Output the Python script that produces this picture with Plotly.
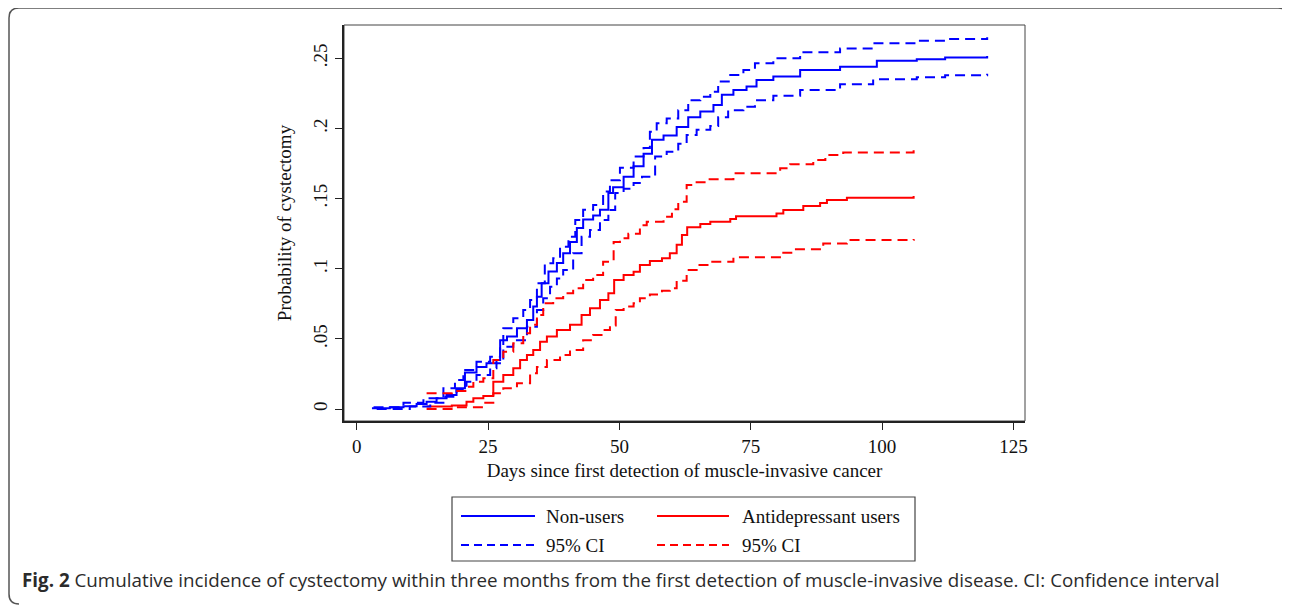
import plotly.graph_objects as go

# ---------------- data ----------------
nonusers_days = [2.9, 6.3, 8.9, 11.4, 13.3, 15.2, 17.1, 19.0, 20.6, 22.8, 24.7, 26.6, 27.3, 28.6,
                 30.5, 32.4, 33.6, 34.3, 35.2, 36.5, 38.1, 39.3, 40.6, 41.9, 43.1, 45.0, 46.3,
                 47.9, 48.8, 50.8, 52.7, 54.6, 56.2, 58.4, 60.9, 63.1, 65.4, 67.9, 69.5, 71.7,
                 74.2, 76.1, 79.3, 84.4, 92.0, 99.0, 106.6, 112.0, 120.0]
nonusers_est = [0.0005, 0.0012, 0.002, 0.0036, 0.0052, 0.0076, 0.010, 0.0148, 0.0260, 0.030,
                0.0326, 0.035, 0.049, 0.0516, 0.0575, 0.0634, 0.073, 0.080, 0.0896, 0.098,
                0.104, 0.111, 0.119, 0.129, 0.135, 0.138, 0.142, 0.154, 0.158, 0.1656, 0.173,
                0.182, 0.192, 0.195, 0.201, 0.208, 0.212, 0.2167, 0.224, 0.2274, 0.2298,
                0.2345, 0.237, 0.2417, 0.244, 0.2483, 0.2492, 0.2505, 0.2516]

nonusers_up_days = [3.2, 8.9, 12.7, 16.5, 18.7, 20.3, 22.8, 25.4, 27.3, 27.9, 29.8, 31.7, 33.0,
                    34.3, 35.8, 37.4, 38.7, 40.3, 41.6, 43.1, 45.0, 46.9, 48.2, 50.1, 52.7,
                    54.6, 55.8, 57.1, 59.0, 61.2, 63.1, 65.4, 67.3, 68.8, 71.1, 73.6, 75.8,
                    79.3, 84.4, 92.0, 98.3, 106.6, 112.0, 120.0]
nonusers_up = [0.0012, 0.0045, 0.0076, 0.0148, 0.0207, 0.0278, 0.0337, 0.0373, 0.0433, 0.0575,
               0.0647, 0.0706, 0.0777, 0.0896, 0.1039, 0.1074, 0.1157, 0.1228, 0.1347, 0.142,
               0.1454, 0.155, 0.163, 0.172, 0.1800, 0.1860, 0.1977, 0.2037, 0.207, 0.213, 0.220,
               0.2226, 0.2262, 0.2334, 0.238, 0.2417, 0.2464, 0.250, 0.2543, 0.257, 0.2607,
               0.2625, 0.2638, 0.2649]

nonusers_lo_days = [3.8, 10.1, 14.0, 16.5, 19.0, 20.9, 22.8, 25.4, 26.6, 27.9, 29.8, 32.4, 34.3,
                    35.5, 36.8, 38.1, 39.3, 41.2, 42.8, 44.4, 46.3, 47.9, 49.2, 50.8, 52.7,
                    54.3, 56.8, 59.0, 61.2, 62.8, 64.7, 67.3, 68.8, 70.7, 73.6, 75.8, 79.3,
                    84.4, 92.0, 98.3, 106.6, 112.0, 120.0]
nonusers_lo = [0.0, 0.0017, 0.0045, 0.0088, 0.0135, 0.0195, 0.0242, 0.029, 0.0326, 0.0444,
               0.049, 0.0587, 0.0706, 0.079, 0.0872, 0.093, 0.099, 0.111, 0.1228, 0.1276,
               0.1347, 0.1419, 0.154, 0.157, 0.161, 0.1656, 0.180, 0.1834, 0.189, 0.1953,
               0.199, 0.2017, 0.208, 0.213, 0.2155, 0.220, 0.2232, 0.2274, 0.2315, 0.235,
               0.2364, 0.2378, 0.239]

users_days = [13.3, 18.1, 20.9, 22.2, 24.1, 26.0, 27.9, 29.8, 31.1, 32.4, 33.6, 34.9, 36.2,
              38.1, 40.6, 42.8, 44.4, 46.3, 47.9, 49.0, 50.8, 52.7, 53.9, 55.8, 58.1, 59.6,
              60.9, 61.9, 62.9, 65.4, 67.3, 71.1, 72.2, 79.9, 81.2, 85.0, 88.2, 89.5, 93.3, 106.0]
users_est = [0.0017, 0.0025, 0.0052, 0.0076, 0.0093, 0.0195, 0.0242, 0.029, 0.035, 0.0385,
             0.042, 0.048, 0.0516, 0.0563, 0.060, 0.067, 0.0718, 0.0777, 0.0825, 0.092,
             0.0955, 0.0979, 0.1027, 0.1055, 0.1074, 0.111, 0.117, 0.124, 0.1295, 0.1319,
             0.1335, 0.1355, 0.1373, 0.1393, 0.1419, 0.1447, 0.1469, 0.149, 0.1506, 0.1518]

users_up_days = [13.3, 18.1, 20.9, 22.2, 24.1, 26.0, 27.9, 29.8, 31.7, 33.0, 34.3, 35.5, 37.4,
                 39.3, 41.2, 43.1, 45.0, 46.9, 48.9, 50.1, 51.7, 53.9, 55.2, 58.4, 60.0, 61.2,
                 62.8, 64.7, 66.6, 71.7, 80.6, 82.5, 86.9, 89.2, 92.6, 106.0]
users_up = [0.0112, 0.0128, 0.0159, 0.0195, 0.0219, 0.035, 0.0408, 0.0468, 0.054, 0.060,
            0.067, 0.0753, 0.079, 0.0825, 0.086, 0.092, 0.0955, 0.105, 0.119, 0.1217, 0.125,
            0.131, 0.1335, 0.137, 0.1424, 0.1478, 0.1597, 0.1616, 0.1637, 0.168, 0.1716,
            0.1744, 0.1775, 0.181, 0.1828, 0.1846]

users_lo_days = [13.3, 19.0, 24.1, 26.0, 27.9, 30.5, 33.0, 34.3, 36.2, 38.7, 40.6, 43.1, 45.0,
                 46.9, 48.2, 49.3, 50.8, 52.7, 53.9, 55.8, 58.1, 59.6, 60.9, 62.8, 64.7, 67.3,
                 71.7, 80.9, 83.1, 88.8, 93.3, 106.0]
users_lo = [0.0, 0.0012, 0.0045, 0.0112, 0.0148, 0.0183, 0.0254, 0.030, 0.035, 0.0385, 0.042,
            0.049, 0.0528, 0.0563, 0.0595, 0.0706, 0.073, 0.0753, 0.079, 0.0817, 0.0843,
            0.086, 0.0915, 0.099, 0.1027, 0.105, 0.1081, 0.1114, 0.1138, 0.118, 0.1205, 0.1212]

x_ticks = [0, 25, 50, 75, 100, 125]
y_ticks = [0, 0.05, 0.10, 0.15, 0.20, 0.25]
y_tick_labels = ["0", ".05", ".1", ".15", ".2", ".25"]

legend_labels = ["Non-users", "Antidepressant users", "95% CI", "95% CI"]
caption_bold = "Fig. 2"
caption_text = ("Cumulative incidence of cystectomy within three months from the first "
                "detection of muscle-invasive disease. CI: Confidence interval")

BLUE = "#0000FF"
RED = "#FF0000"
SERIF = "Liberation Serif, Times New Roman, serif"

# ---------------- layout geometry (screen pixels of the reference) ----------------
OFF = 8                      # page body margin of the browser
W, H = 1290 - OFF, 605 - OFF
PL, PR, PT, PB = 344, 1025, 25, 421   # plot area edges in screen pixels


def px(x):
    return (x - PL) / (PR - PL)


def py(y):
    return (PB - y) / (PB - PT)


fig = go.Figure()

series = [
    (nonusers_days, nonusers_est, BLUE, "solid", legend_labels[0]),
    (users_days, users_est, RED, "solid", legend_labels[1]),
    (nonusers_up_days, nonusers_up, BLUE, "10px,6px", legend_labels[2]),
    (nonusers_lo_days, nonusers_lo, BLUE, "10px,6px", legend_labels[2]),
    (users_up_days, users_up, RED, "10px,6px", legend_labels[3]),
    (users_lo_days, users_lo, RED, "10px,6px", legend_labels[3]),
]
for xs, ys, col, dash, name in series:
    fig.add_trace(go.Scatter(
        x=xs, y=ys, mode="lines", name=name, showlegend=False,
        line=dict(color=col, width=2, dash=dash, shape="hv"),
        hoverinfo="x+y+name",
    ))

axis_common = dict(
    showgrid=False, zeroline=False, showline=True, linecolor="#222222", linewidth=2,
    ticks="outside", ticklen=7, tickwidth=1, tickcolor="#222222",
    tickfont=dict(family=SERIF, size=19, color="#111111"),
)

fig.update_xaxes(
    range=[-2.42, 127.2], tickvals=x_ticks, ticktext=[str(v) for v in x_ticks],
    title=dict(text="Days since first detection of muscle-invasive cancer",
               font=dict(family=SERIF, size=19, color="#111111"), standoff=8),
    **axis_common,
)
fig.update_yaxes(
    range=[-0.00855, 0.2737], tickvals=y_ticks, ticktext=y_tick_labels, tickangle=-90,
    title=dict(text="Probability of cystectomy",
               font=dict(family=SERIF, size=19, color="#111111"), standoff=14),
    **axis_common,
)

shapes = []
# plot region outline (thin)
shapes.append(dict(type="rect", xref="paper", yref="paper", x0=0, y0=0, x1=1, y1=1,
                   line=dict(color="#444444", width=1), layer="below"))
# outer rounded frame
fx0, fy0, fx1, fy1, r = 9, 8, 1288, 604, 10
path = (f"M {px(fx0 + r)},{py(fy1)} Q {px(fx0)},{py(fy1)} {px(fx0)},{py(fy1 - r)} "
        f"L {px(fx0)},{py(fy0 + r)} "
        f"Q {px(fx0)},{py(fy0)} {px(fx0 + r)},{py(fy0)} "
        f"L {px(fx1 - r)},{py(fy0)} Q {px(fx1)},{py(fy0)} {px(fx1)},{py(fy0 + r)} "
        f"L {px(fx1)},{py(fy1)}")
shapes.append(dict(type="path", xref="paper", yref="paper", path=path,
                   line=dict(color="#555555", width=1.5)))

# legend box
LX0, LX1, LY0, LY1 = 452, 915, 497, 561
shapes.append(dict(type="rect", xref="paper", yref="paper",
                   x0=px(LX0), x1=px(LX1), y0=py(LY1), y1=py(LY0),
                   line=dict(color="#444444", width=1.2), fillcolor="white"))
rows = [516, 545]
cols = [(461, 535, 544), (657, 729, 740)]
entries = [
    (0, 0, BLUE, "solid", legend_labels[0]),
    (0, 1, RED, "solid", legend_labels[1]),
    (1, 0, BLUE, "8px,5px", legend_labels[2]),
    (1, 1, RED, "8px,5px", legend_labels[3]),
]
annotations = []
for ri, ci, col, dash, label in entries:
    x0, x1, tx = cols[ci]
    yy = rows[ri]
    shapes.append(dict(type="line", xref="paper", yref="paper",
                       x0=px(x0), x1=px(x1), y0=py(yy), y1=py(yy),
                       line=dict(color=col, width=2, dash=dash)))
    annotations.append(dict(xref="paper", yref="paper", x=px(tx), y=py(yy),
                            xanchor="left", yanchor="middle", showarrow=False,
                            text=label, font=dict(family=SERIF, size=19, color="#111111")))

# caption
annotations.append(dict(xref="paper", yref="paper", x=px(20), y=py(580),
                        xanchor="left", yanchor="middle", showarrow=False,
                        text=f"<b>{caption_bold}</b> {caption_text}",
                        font=dict(family="Open Sans, Noto Sans, sans-serif", size=18.8,
                                  color="#2b2b2b")))

fig.update_layout(
    width=W, height=H,
    margin=dict(l=PL - OFF, r=(1290 - OFF) - (PR - OFF), t=PT - OFF, b=H - (PB - OFF), pad=0),
    paper_bgcolor="white", plot_bgcolor="white",
    shapes=shapes, annotations=annotations, showlegend=False,
)

fig.write_html("out.html")
